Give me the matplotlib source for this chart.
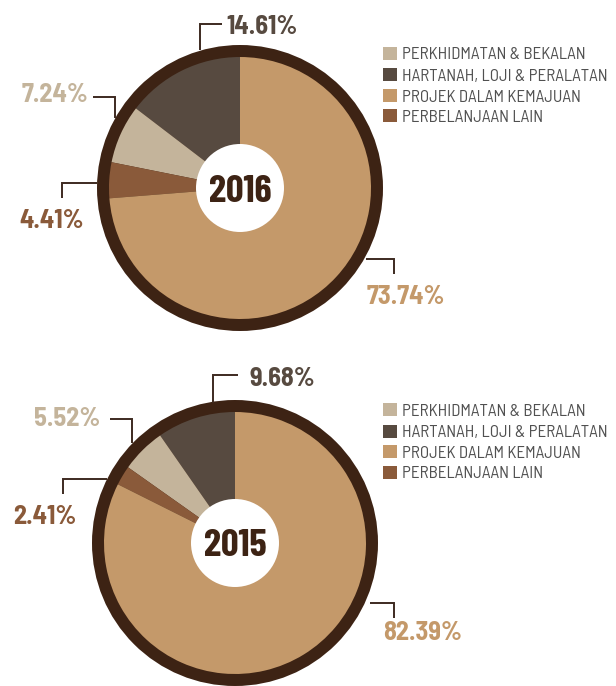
import matplotlib
matplotlib.use("Agg")
import matplotlib.pyplot as plt
from matplotlib.patches import Circle, Rectangle

# data
categories = ["HARTANAH, LOJI & PERALATAN", "PERKHIDMATAN & BEKALAN",
              "PERBELANJAAN LAIN", "PROJEK DALAM KEMAJUAN"]
legend_order = ["PERKHIDMATAN & BEKALAN", "HARTANAH, LOJI & PERALATAN",
                "PROJEK DALAM KEMAJUAN", "PERBELANJAAN LAIN"]
years = ["2016", "2015"]
values_2016 = [14.61, 7.24, 4.41, 73.74]
values_2015 = [9.68, 5.52, 2.41, 82.39]

colors = {
    "HARTANAH, LOJI & PERALATAN": "#574a40",
    "PERKHIDMATAN & BEKALAN": "#c4b49b",
    "PERBELANJAAN LAIN": "#8a5a3a",
    "PROJEK DALAM KEMAJUAN": "#c4996a",
}
RING = "#3d2314"
LINE = "#3d2a20"

W, H = 616, 686
COND = ["Barlow Condensed", "DejaVu Sans"]
SEMI = ["Barlow Semi Condensed", "DejaVu Sans"]

fig = plt.figure(figsize=(W / 100, H / 100), dpi=100)
ax = fig.add_axes([0, 0, 1, 1])


def P(x, y):
    # pixel (from top) -> data
    return x, H - y


# per chart layout: centre, legend rows, label layouts (text pos, align, leader polyline)
layouts = [
    dict(center=(240, 188), legend_y=[53, 74.5, 95.5, 115.5],
         labels=[
             ((226, 24), "left", [(200, 50), (200, 24), (222, 24)]),
             ((88, 93), "right", [(93, 96.5), (115, 96.5), (115, 118)]),
             ((19, 218), "left", [(97, 183), (62, 183), (62, 198)]),
             ((367, 294), "left", [(366, 259), (394, 259), (394, 274)]),
         ]),
    dict(center=(235, 543), legend_y=[409.5, 431, 451.5, 472],
         labels=[
             ((250, 377), "left", [(213, 403), (213, 375), (238, 375)]),
             ((100, 417), "right", [(110, 419), (132, 419), (132, 443)]),
             ((13, 514), "left", [(107, 479), (63, 479), (63, 494)]),
             ((383, 631), "left", [(370, 603), (394, 603), (394, 618)]),
         ]),
]

for year, vals, lay in zip(years, [values_2016, values_2015], layouts):
    cx, cy = P(*lay["center"])
    ax.add_patch(Circle((cx, cy), 143, facecolor=RING, edgecolor="none", zorder=1))
    ax.pie(vals, colors=[colors[c] for c in categories], startangle=90,
           counterclock=True, center=(cx, cy), radius=131,
           wedgeprops=dict(linewidth=0), frame=True)
    ax.add_patch(Circle((cx, cy), 44, facecolor="white", edgecolor="none", zorder=5))
    ax.text(cx, cy, year, ha="center", va="center_baseline", fontsize=28,
            fontweight="bold", family=COND, fontstretch="condensed",
            color=RING, zorder=6)

    for cat, v, (tpos, ha, pts) in zip(categories, vals, lay["labels"]):
        xs, ys = zip(*[P(x, y) for x, y in pts])
        ax.plot(xs, ys, color=LINE, lw=1.4, solid_capstyle="butt",
                solid_joinstyle="miter", zorder=3)
        tx, ty = P(*tpos)
        ax.text(tx, ty, f"{v:.2f}%", ha=ha, va="center_baseline", fontsize=19,
                fontweight="bold", family=SEMI, fontstretch="semi-condensed",
                color=colors[cat], zorder=6)

    for cat, ly in zip(legend_order, lay["legend_y"]):
        x0, y0 = P(383, ly + 6.5)
        ax.add_patch(Rectangle((x0, y0), 14, 13, facecolor=colors[cat],
                               edgecolor="none", zorder=3))
        tx, ty = P(402, ly)
        ax.text(tx, ty, cat, ha="left", va="center_baseline", fontsize=12.3,
                family=SEMI, fontstretch="semi-condensed", color="#505050",
                zorder=6)

ax.set_xlim(0, W)
ax.set_ylim(0, H)
ax.set_aspect("equal")
ax.axis("off")
fig.savefig("out.png", dpi=100)
